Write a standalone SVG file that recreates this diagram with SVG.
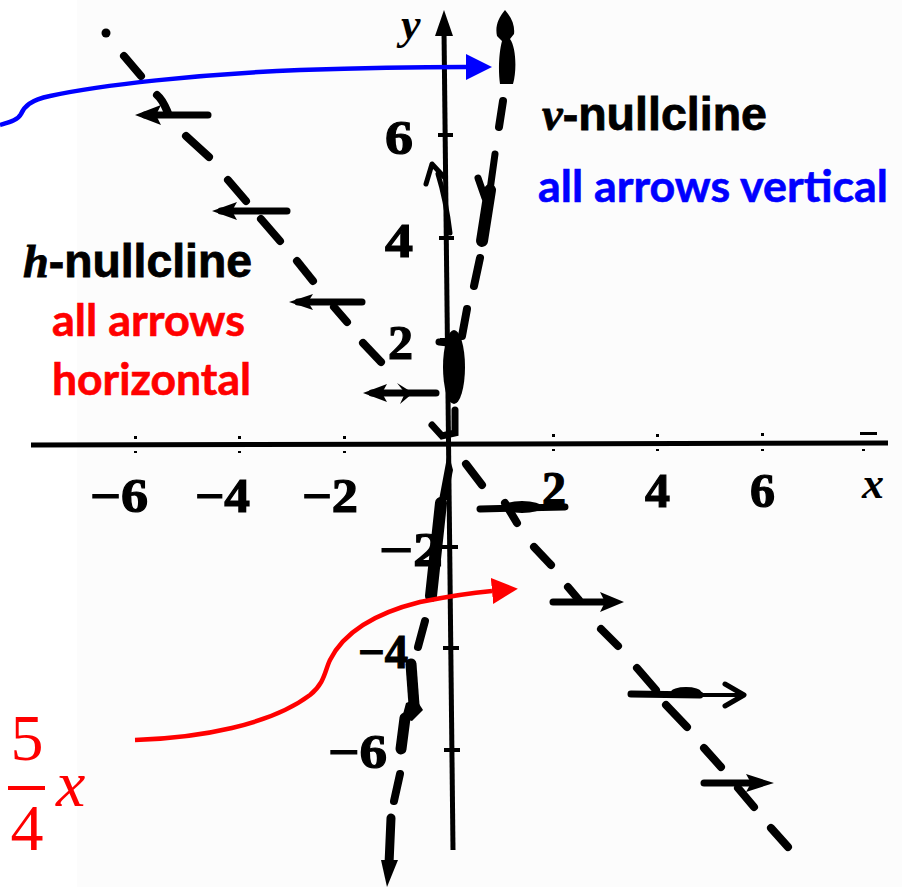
<svg xmlns="http://www.w3.org/2000/svg" width="902" height="887" viewBox="0 0 902 887">
<style>
.ax{stroke:#000;stroke-width:5;fill:none;stroke-linecap:butt}
.tk{stroke:#000;stroke-width:4;fill:none}
.d{stroke:#000;stroke-width:8;stroke-linecap:round;fill:none}
.b{stroke:#000;stroke-width:7;stroke-linecap:round;fill:none}
.t{stroke:#000;stroke-width:5;stroke-linecap:round;stroke-linejoin:round;fill:none}
.k{fill:#000}
.num{font-family:"Liberation Serif",serif;font-weight:bold;font-size:48px;fill:#000;stroke:#000;stroke-width:1.2}
.var{font-family:"Liberation Serif",serif;font-weight:bold;font-style:italic;font-size:44px;fill:#000}
.nc{font-family:"Liberation Sans",Arial,sans-serif;font-weight:bold;font-size:46px;fill:#000;stroke:#000;stroke-width:0.8}
.ncv{font-family:"Liberation Serif",serif;font-style:italic;font-weight:bold}
.note{font-family:Lato,"Liberation Sans",sans-serif;font-weight:bold;font-size:43px;stroke-width:0.6}
.math{font-family:"Liberation Serif",serif;font-size:66px;fill:#ff0000}
.cb{stroke:#0000ff;stroke-width:4.5;fill:none}
.cr{stroke:#ff0000;stroke-width:4.5;fill:none}
</style>
<defs>
<marker id="ab" markerUnits="userSpaceOnUse" markerWidth="28" markerHeight="28" refX="0" refY="13" orient="auto" viewBox="0 0 28 28"><path d="M0,0 L26,13 L0,26 Z" fill="#0000ff"/></marker>
<marker id="ar" markerUnits="userSpaceOnUse" markerWidth="28" markerHeight="28" refX="0" refY="13" orient="auto" viewBox="0 0 28 28"><path d="M0,0 L26,13 L0,26 Z" fill="#ff0000"/></marker>
</defs>
<rect x="0" y="0" width="902" height="887" fill="#ffffff"/>
<rect x="77" y="0" width="825" height="887" fill="#fcfcfc"/>

<g id="axes">
<line class="ax" x1="31" y1="445" x2="888" y2="443"/>
<line class="ax" x1="444" y1="30" x2="453" y2="850"/>
<polygon class="k" points="444,10 453,36 435,36"/>
<g class="tk">
<line x1="438" y1="135" x2="453" y2="135"/>
<line x1="439" y1="238" x2="454" y2="238"/>
<line x1="440" y1="340" x2="455" y2="340"/>
<line x1="442" y1="547" x2="458" y2="547"/>
<line x1="443" y1="648" x2="459" y2="648"/>
<line x1="444" y1="750" x2="460" y2="750"/>
</g>
<g class="k">
<rect x="134" y="436" width="3" height="3"/><rect x="238" y="436" width="3" height="3"/><rect x="343" y="436" width="3" height="3"/>
<rect x="552" y="434" width="3" height="3"/><rect x="656" y="434" width="3" height="3"/><rect x="761" y="433" width="3" height="3"/><rect x="860" y="432" width="17" height="3"/>
<rect x="134" y="451" width="3" height="2"/><rect x="238" y="451" width="3" height="2"/><rect x="343" y="451" width="3" height="2"/>
<rect x="552" y="449" width="3" height="2"/><rect x="656" y="449" width="3" height="2"/><rect x="761" y="449" width="3" height="2"/><rect x="862" y="449" width="3" height="2"/>
</g>
</g>

<g id="axis-labels">
<text class="var" x="401" y="39">y</text>
<text class="var" x="862" y="498">x</text>
<text class="num" x="385" y="154" textLength="28" lengthAdjust="spacingAndGlyphs">6</text>
<text class="num" x="385" y="257" textLength="28" lengthAdjust="spacingAndGlyphs">4</text>
<text class="num" x="388" y="359" textLength="25" lengthAdjust="spacingAndGlyphs">2</text>
<text class="num" x="379" y="566" textLength="64" lengthAdjust="spacingAndGlyphs">−2</text>
<text class="num" x="358" y="668" textLength="50" lengthAdjust="spacingAndGlyphs">−4</text>
<text class="num" x="328" y="768" textLength="59" lengthAdjust="spacingAndGlyphs">−6</text>
<text class="num" x="90" y="512" textLength="58" lengthAdjust="spacingAndGlyphs">−6</text>
<text class="num" x="195" y="512" textLength="55" lengthAdjust="spacingAndGlyphs">−4</text>
<text class="num" x="302" y="512" textLength="56" lengthAdjust="spacingAndGlyphs">−2</text>
<text class="num" x="542" y="505" textLength="24" lengthAdjust="spacingAndGlyphs">2</text>
<text class="num" x="645" y="507" textLength="25" lengthAdjust="spacingAndGlyphs">4</text>
<text class="num" x="750" y="507" textLength="25" lengthAdjust="spacingAndGlyphs">6</text>
</g>

<g id="h-nullcline">
<circle class="k" cx="106" cy="33" r="4.5"/>
<line class="d" x1="124" y1="56" x2="141" y2="76"/>
<line class="b" x1="145" y1="115" x2="208" y2="115"/>
<polygon class="k" points="135,115 161,105 156,115 161,125"/>
<path class="d" d="M157,95 C163,100 165,106 168,113"/>
<line class="d" x1="186" y1="136" x2="209" y2="157"/>
<line class="d" x1="228" y1="180" x2="246" y2="201"/>
<line class="b" x1="221" y1="211" x2="287" y2="211"/>
<polygon class="k" points="212,211 237,202 232,211 237,220"/>
<line class="d" x1="261" y1="219" x2="280" y2="241"/>
<line class="d" x1="297" y1="261" x2="313" y2="281"/>
<line class="b" x1="298" y1="302" x2="362" y2="302"/>
<polygon class="k" points="289,302 313,294 308,302 313,310"/>
<line class="d" x1="334" y1="307" x2="347" y2="322"/>
<line class="d" x1="363" y1="343" x2="381" y2="362"/>
<line class="b" x1="372" y1="393" x2="436" y2="393"/>
<polygon class="k" points="363,393 387,384 382,393 387,402"/>
<polygon class="k" points="397,383 413,393 400,404 405,393"/>
<path class="b" d="M455,410 L455,433 L442,436 L432,425"/>
<line class="d" x1="466" y1="464" x2="482" y2="485"/>
<line class="b" x1="480" y1="509" x2="565" y2="507"/>
<ellipse class="k" cx="522" cy="507" rx="20" ry="6"/>
<line class="d" x1="505" y1="503" x2="517" y2="523"/>
<line class="d" x1="534" y1="547" x2="551" y2="565"/>
<line class="b" x1="553" y1="602" x2="606" y2="602"/>
<polygon class="k" points="624,602 600,592 605,602 600,612"/>
<line class="d" x1="568" y1="587" x2="579" y2="600"/>
<line class="d" x1="601" y1="629" x2="618" y2="646"/>
<line class="b" x1="631" y1="694" x2="700" y2="695"/>
<line x1="700" y1="695" x2="743" y2="695" stroke="#000" stroke-width="4"/>
<polyline class="t" points="725,684 744,695 725,706"/>
<ellipse class="k" cx="686" cy="692" rx="15" ry="5"/>
<line class="d" x1="637" y1="668" x2="656" y2="690"/>
<line class="d" x1="666" y1="705" x2="687" y2="727"/>
<line class="d" x1="704" y1="748" x2="721" y2="767"/>
<line class="b" x1="704" y1="783" x2="758" y2="783"/>
<polygon class="k" points="774,783 746,774 751,783 746,792"/>
<line class="d" x1="738" y1="788" x2="754" y2="807"/>
<line class="d" x1="771" y1="828" x2="788" y2="847"/>
</g>

<g id="v-nullcline">
<path class="k" d="M505,10 C512,18 515,26 514,34 L510,39 C516,47 517,70 513,84 L500,84 C498,70 499,52 502,41 L497,36 C495,27 498,18 505,10 Z"/>
<line class="d" x1="503" y1="101" x2="499" y2="127"/>
<line class="b" x1="495" y1="154" x2="490" y2="190"/>
<line x1="490" y1="190" x2="482" y2="241" stroke="#000" stroke-width="12" stroke-linecap="round"/>
<line class="b" x1="478" y1="178" x2="485" y2="198"/>
<line class="d" x1="480" y1="258" x2="474" y2="286"/>
<line class="d" x1="467" y1="309" x2="462" y2="336"/>
<ellipse class="k" cx="454" cy="367" rx="11" ry="37"/>
<line class="b" x1="439" y1="342" x2="448" y2="343"/>
<polygon class="k" points="448,452 453,470 447,500 439,500"/>
<line x1="441" y1="503" x2="431" y2="596" stroke="#000" stroke-width="12" stroke-linecap="round"/>
<line class="d" x1="425" y1="621" x2="418" y2="647"/>
<line x1="411" y1="664" x2="414" y2="705" stroke="#000" stroke-width="11" stroke-linecap="round"/>
<polygon class="k" points="406,703 416,699 423,710 412,721 402,718"/>
<line x1="405" y1="718" x2="401" y2="749" stroke="#000" stroke-width="11" stroke-linecap="round"/>
<line class="d" x1="400" y1="774" x2="394" y2="801"/>
<line x1="391" y1="818" x2="389" y2="864" stroke="#000" stroke-width="9" stroke-linecap="round"/>
<polygon class="k" points="381,860 398,860 387,887"/>
<path class="t" d="M450,233 Q446,200 438,174"/>
<polyline class="t" points="426,184 432,164 445,178"/>
</g>

<g id="nullcline-labels">
<text class="nc" x="23" y="277" textLength="229" lengthAdjust="spacingAndGlyphs"><tspan class="ncv">h</tspan>-nullcline</text>
<text class="nc" x="542" y="130" textLength="225" lengthAdjust="spacingAndGlyphs"><tspan class="ncv">v</tspan>-nullcline</text>
<text class="note" x="538" y="202" fill="#0000ff" stroke="#0000ff" textLength="350" lengthAdjust="spacingAndGlyphs">all arrows vertical</text>
<text class="note" x="52" y="336" fill="#ff0000" stroke="#ff0000" textLength="193" lengthAdjust="spacingAndGlyphs">all arrows</text>
<text class="note" x="52" y="395" fill="#ff0000" stroke="#ff0000" textLength="199" lengthAdjust="spacingAndGlyphs">horizontal</text>
</g>

<g id="formula">
<text class="math" x="27" y="760" text-anchor="middle">5</text>
<rect x="8" y="786" width="37" height="4" fill="#ff0000"/>
<text class="math" x="27" y="850" text-anchor="middle">4</text>
<text class="math" x="56" y="806" font-style="italic" font-size="62">x</text>
</g>

<g id="connectors">
<path class="cb" marker-end="url(#ab)" d="M0,125 C10,122 18,120 21,114 C24,107 30,100 50,96 C100,85 200,74 300,70 C360,68 420,67 466,67"/>
<path class="cr" marker-end="url(#ar)" d="M135,740 C200,738 270,725 310,695 C325,683 325,670 330,660 C345,630 380,612 420,602 C450,596 470,593 492,591"/>
</g>
</svg>
